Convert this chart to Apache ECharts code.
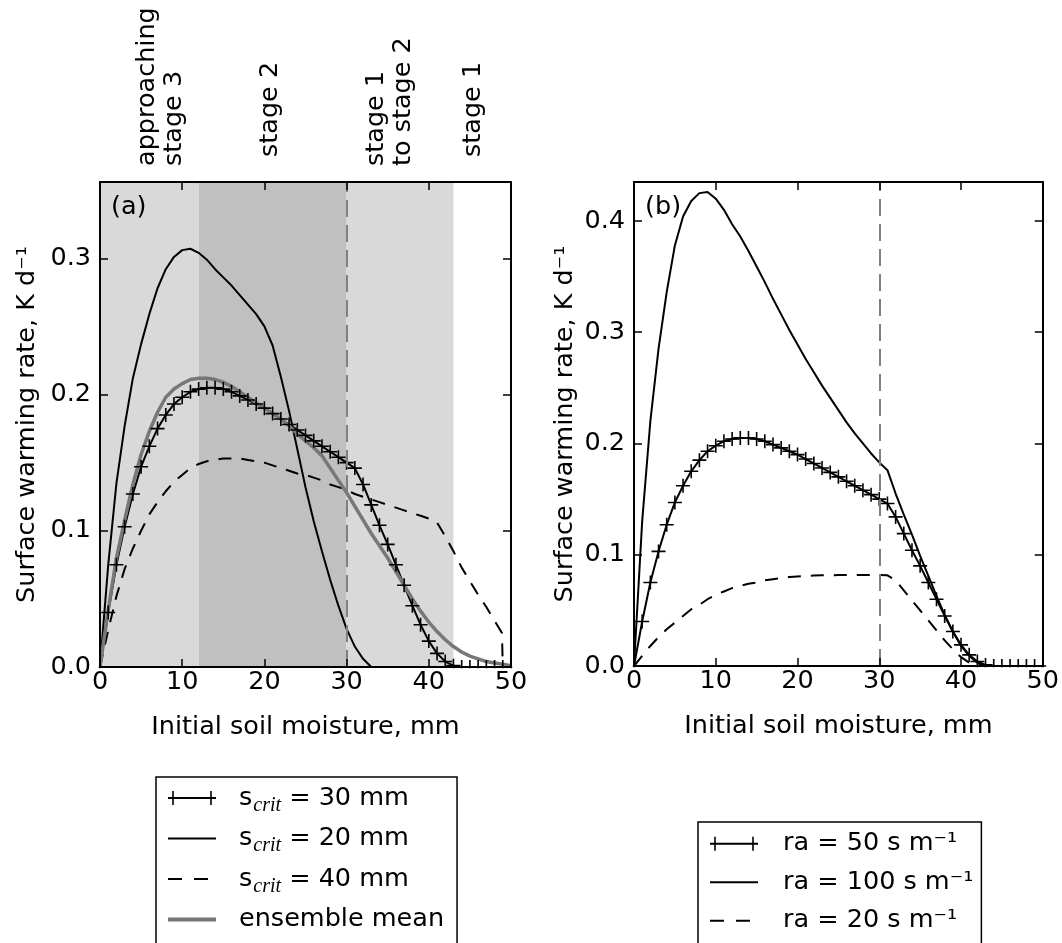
<!DOCTYPE html>
<html><head><meta charset="utf-8">
<script src="https://cdn.jsdelivr.net/npm/echarts@6/dist/echarts.min.js"></script>
<style>html,body{margin:0;padding:0;background:#fff}#c{width:1062px;height:943px}</style>
</head><body><div id="c"></div>
<script>
// ---------------- data ----------------
const xMM = [0,1,2,3,4,5,6,7,8,9,10,11,12,13,14,15,16,17,18,19,20,21,22,23,24,25,26,27,28,29,30,31,32,33,34,35,36,37,38,39,40,41,42,43,44,45,46,47,48,49,50];
const sCrit30 = [0,0.040,0.075,0.103,0.127,0.147,0.162,0.175,0.185,0.193,0.198,0.202,0.204,
  0.205,0.205,0.204,0.202,0.199,0.196,0.193,0.190,0.186,0.182,0.178,0.174,0.170,0.166,0.162,0.158,0.154,0.150,0.146,
  0.134,0.119,0.104,0.090,0.075,0.060,0.045,0.031,0.019,0.010,0.004,0.001,
  0,0,0,0,0,0,0];
const sCrit20 = [0,0.075,0.135,0.177,0.212,0.237,0.259,0.278,0.292,0.301,0.306,
  0.307,0.304,0.299,0.292,0.286,0.280,0.273,0.266,0.259,0.250,0.236,
  0.213,0.188,0.160,0.132,0.107,0.085,0.064,0.045,0.028,0.015,0.006,0];
const sCrit40X = [0,1,2,3,4,5,6,7,8,9,10,11,12,13,14,15,16,17,18,19,20,21,22,23,24,25,26,27,28,29,30,31,32,33,34,35,36,37,38,39,40,41,42,43,44,45,46,47,48,48.9,49];
const sCrit40 = [0,0.027,0.052,0.072,0.087,0.100,0.112,0.121,0.129,0.136,
  0.141,0.146,0.149,0.151,0.152,0.153,0.153,0.153,0.152,0.151,
  0.150,0.148,0.146,0.144,0.142,0.141,0.139,0.137,0.134,0.132,
  0.130,0.127,0.125,0.123,0.121,0.119,0.117,0.115,0.113,0.111,
  0.109,0.106,0.096,0.085,0.073,0.063,0.053,0.044,0.034,0.025,0];
const ensembleMean = [0,0.042,0.080,0.108,0.134,0.156,0.173,0.187,0.198,0.204,0.208,
  0.211,0.212,0.212,0.211,0.209,0.206,0.202,0.198,0.194,0.190,
  0.186,0.182,0.177,0.171,0.166,0.161,0.155,0.146,0.137,0.128,
  0.118,0.108,0.098,0.089,0.080,0.070,0.060,0.050,0.041,0.033,
  0.026,0.020,0.015,0.011,0.008,0.006,0.004,0.003,0.002,0.001];
const ra50 = sCrit30;
const ra100 = [0,0.130,0.220,0.285,0.336,0.378,0.404,0.418,0.425,0.426,
  0.420,0.410,0.397,0.386,0.373,0.359,0.345,0.330,0.316,0.302,
  0.289,0.276,0.264,0.252,0.241,0.230,0.219,0.209,0.200,0.191,0.183,0.176,
  0.155,0.136,0.118,0.099,0.081,0.063,0.046,0.031,0.018,0.009,0.003,0];
const ra20 = [0,0.009,0.018,0.026,0.033,0.039,0.045,0.051,0.055,0.060,
  0.064,0.067,0.070,0.072,0.074,0.075,0.077,0.078,0.079,0.080,
  0.0805,0.081,0.0813,0.0815,0.0816,0.0817,0.0817,0.0817,0.0817,0.0817,0.0817,0.0815,
  0.077,0.068,0.059,0.050,0.041,0.032,0.023,0.015,0.008,0.003,0];
const stageBounds = [0, 12, 30, 43];          // shaded soil-moisture ranges in (a)
const sCritLine = 30;                         // vertical dashed line
const stageTicks = [7.4, 20.7, 35.3, 45.4];   // top label positions (mm)
const stageLabels = ['approaching\nstage 3', 'stage 2', 'stage 1\nto stage 2', 'stage 1'];
const xTicks = {min: 0, max: 50, interval: 10};
const yMaxA = 0.356, yMaxB = 0.435;
const namesA = ['s_crit = 30 mm', 's_crit = 20 mm', 's_crit = 40 mm', 'ensemble mean'];
const namesB = ['ra = 50 s m\u207B\u00B9', 'ra = 100 s m\u207B\u00B9', 'ra = 20 s m\u207B\u00B9'];

// ---------------- layout / style ----------------
const FONT = 'DejaVu Sans';
const FS = 25.5;
const GA = {left: 100, top: 182, width: 411, height: 485};
const GB = {left: 634, top: 182, width: 411, height: 484};
const PLUS = 'path://M-7,-0.8H7V0.8H-7Z M-0.8,-7H0.8V7H-0.8Z';
const PLUS_LINE_ICON = 'path://M0,6.1H48V7.9H0Z M4.2,0H5.8V14H4.2Z M42.2,0H43.8V14H42.2Z';
const DASH = [13, 10];
const GRAY = '#777777';
const txt = {color: '#000', fontFamily: FONT, fontSize: FS};

function pts(xs, ys) { return ys.map((y, i) => [xs[i], y]); }

function xAxesFor(gi) {
  const common = {type: 'value', gridIndex: gi, min: xTicks.min, max: xTicks.max, interval: xTicks.interval, z: 6,
    splitLine: {show: false},
    axisLine: {show: true, onZero: false, lineStyle: {color: '#000', width: 2}},
    axisTick: {show: true, inside: true, length: 8, lineStyle: {color: '#000', width: 1.5}}};
  const bottom = Object.assign({}, common, {position: 'bottom',
    axisLabel: Object.assign({margin: 2}, txt),
    name: 'Initial soil moisture, mm', nameLocation: 'middle', nameGap: 47, nameTextStyle: txt});
  const top = Object.assign({}, common, {position: 'top', axisLabel: {show: false}});
  return [bottom, top];
}
function yAxesFor(gi, ymax, nameGap) {
  const common = {type: 'value', gridIndex: gi, min: 0, max: ymax, interval: 0.1, z: 6,
    splitLine: {show: false},
    axisLine: {show: true, onZero: false, lineStyle: {color: '#000', width: 2}},
    axisTick: {show: true, inside: true, length: 8, lineStyle: {color: '#000', width: 1.5}}};
  const left = Object.assign({}, common, {position: 'left',
    axisLabel: Object.assign({margin: 9, showMaxLabel: false, formatter: v => v.toFixed(1)}, txt),
    name: 'Surface warming rate, K d\u207B\u00B9', nameLocation: 'middle', nameGap: nameGap, nameTextStyle: txt});
  const right = Object.assign({}, common, {position: 'right', axisLabel: {show: false}});
  return [left, right];
}

function lineSeries(name, xi, yi, data, opts) {
  return Object.assign({type: 'line', name: name, xAxisIndex: xi, yAxisIndex: yi, data: data,
    symbol: 'none', z: 3, animation: false, silent: true, clip: true,
    lineStyle: {color: '#000', width: 2}, itemStyle: {color: '#000'}}, opts || {});
}

const shadeA = {type: 'line', name: 'shadeA', xAxisIndex: 0, yAxisIndex: 0, data: [], z: 1, silent: true, animation: false,
  markArea: {silent: true, animation: false, data: [
    [{xAxis: stageBounds[0], itemStyle: {color: '#d9d9d9'}}, {xAxis: stageBounds[1]}],
    [{xAxis: stageBounds[1], itemStyle: {color: '#c0c0c0'}}, {xAxis: stageBounds[2]}],
    [{xAxis: stageBounds[2], itemStyle: {color: '#d9d9d9'}}, {xAxis: stageBounds[3]}]]},
  markLine: {silent: true, animation: false, symbol: 'none', label: {show: false},
    lineStyle: {color: '#808080', width: 2, type: [17, 8]}, data: [{xAxis: sCritLine}]}};
const shadeB = {type: 'line', name: 'shadeB', xAxisIndex: 2, yAxisIndex: 2, data: [], z: 1, silent: true, animation: false,
  markLine: {silent: true, animation: false, symbol: 'none', label: {show: false},
    lineStyle: {color: '#808080', width: 2, type: [17, 8]}, data: [{xAxis: sCritLine}]}};

const plusOpts = {symbol: PLUS, symbolSize: 14, showSymbol: true, showAllSymbol: true};

const series = [
  shadeA, shadeB,
  lineSeries(namesA[0], 0, 0, pts(xMM, sCrit30), plusOpts),
  lineSeries(namesA[1], 0, 0, pts(xMM, sCrit20)),
  lineSeries(namesA[2], 0, 0, pts(sCrit40X, sCrit40), {lineStyle: {color: '#000', width: 2, type: DASH}}),
  lineSeries(namesA[3], 0, 0, pts(xMM, ensembleMean), {lineStyle: {color: GRAY, width: 3.5}, itemStyle: {color: GRAY}}),
  lineSeries(namesB[0], 2, 2, pts(xMM, ra50), plusOpts),
  lineSeries(namesB[1], 2, 2, pts(xMM, ra100)),
  lineSeries(namesB[2], 2, 2, pts(xMM, ra20), {lineStyle: {color: '#000', width: 2, type: DASH}})
];

function coverRects(g) {
  const b = g.top + g.height, r = g.left + g.width;
  const st = {fill: '#fff'};
  return [
    {type: 'rect', z: 4, silent: true, shape: {x: g.left - 10, y: b + 1.2, width: g.width + 20, height: 9}, style: st},
    {type: 'rect', z: 4, silent: true, shape: {x: g.left - 9, y: g.top, width: 7.8, height: g.height + 10}, style: st},
    {type: 'rect', z: 4, silent: true, shape: {x: r + 1.2, y: g.top, width: 9, height: g.height + 10}, style: st}
  ];
}

// legend keys: [kind] per entry — 'plus' | 'solid' | 'dash' | 'gray'
function legendItem(name, kind) {
  if (kind === 'plus') return {name: name, icon: PLUS_LINE_ICON};
  const ls = kind === 'dash' ? {width: 2, type: [14, 12]} : kind === 'gray' ? {width: 4, color: GRAY} : {width: 2};
  return {name: name, itemStyle: {opacity: 0}, lineStyle: ls};
}

const legendCommon = {orient: 'vertical', selectedMode: false, backgroundColor: '#fff', height: 400,
  borderColor: '#000', borderWidth: 1.5, borderRadius: 0, itemWidth: 48, itemHeight: 20};

const option = {
  backgroundColor: '#fff',
  animation: false,
  grid: [Object.assign({show: false}, GA), Object.assign({show: false}, GB)],
  xAxis: [].concat(xAxesFor(0), xAxesFor(1)),
  yAxis: [].concat(yAxesFor(0, yMaxA, 60), yAxesFor(1, yMaxB, 56)),
  legend: [
    Object.assign({}, legendCommon, {
      data: [legendItem(namesA[0], 'plus'), legendItem(namesA[1], 'solid'), legendItem(namesA[2], 'dash'), legendItem(namesA[3], 'gray')],
      left: 156, top: 777, itemGap: 9, padding: [7, 13, 14, 10],
      formatter: n => n.replace('s_crit', 's{sub|crit}'),
      textStyle: Object.assign({lineHeight: 28, padding: [0, 0, 0, 18],
        rich: {sub: {fontFamily: 'Liberation Serif', fontStyle: 'italic', fontSize: 20, padding: [15, 0, 0, 1], color: '#000'}}}, txt)}),
    Object.assign({}, legendCommon, {
      data: [legendItem(namesB[0], 'plus'), legendItem(namesB[1], 'solid'), legendItem(namesB[2], 'dash')],
      left: 698, top: 822, itemGap: 11, padding: [8, 8, 14, 11],
      textStyle: Object.assign({lineHeight: 27.5, padding: [0, 0, 0, 20]}, txt)})
  ],
  series: series
};

const chart = echarts.init(document.getElementById('c'), null, {renderer: 'canvas'});
chart.setOption(option);

// graphic: panel letters, stage labels above (a) placed through the x scale, and clip covers
const stageText = stageTicks.map((v, i) => {
  const px = chart.convertToPixel({xAxisIndex: 0}, v);
  const multi = stageLabels[i].indexOf('\n') >= 0;
  return {type: 'text', z: 7, silent: true, x: px, y: GA.top - (multi ? 16 : 25), rotation: Math.PI / 2,
    style: {text: stageLabels[i], fill: '#000', font: FS + 'px ' + FONT, align: 'left', verticalAlign: 'middle', lineHeight: 27}};
});
chart.setOption({graphic: [].concat(coverRects(GA), coverRects(GB), stageText, [
  {type: 'text', z: 7, silent: true, left: GA.left + 11, top: GA.top + 12, style: {text: '(a)', fill: '#000', font: FS + 'px ' + FONT}},
  {type: 'text', z: 7, silent: true, left: GB.left + 11, top: GB.top + 12, style: {text: '(b)', fill: '#000', font: FS + 'px ' + FONT}}
])});
</script></body></html>
